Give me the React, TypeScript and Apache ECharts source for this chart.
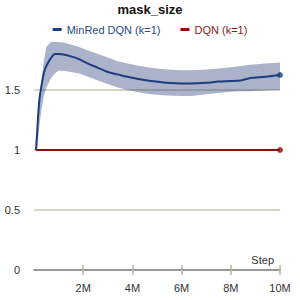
import React, { useEffect, useRef } from "react";
import * as echarts from "echarts";

const STEPS_M = [0.08, 0.12, 0.16, 0.22, 0.3, 0.4, 0.5, 0.7, 0.85, 1.0, 1.2, 1.5, 1.8, 2.2, 2.6, 3.0, 3.4, 3.8, 4.3, 4.75, 5.4, 6.0, 6.4, 7.0, 7.5, 8.0, 8.4, 8.8, 9.4, 10];
const MINRED_MEAN = [1.0, 1.12, 1.26, 1.42, 1.53, 1.64, 1.7, 1.77, 1.8, 1.8, 1.795, 1.78, 1.76, 1.72, 1.685, 1.65, 1.63, 1.61, 1.59, 1.575, 1.56, 1.555, 1.555, 1.56, 1.57, 1.575, 1.58, 1.6, 1.61, 1.625];
const MINRED_UPPER = [1.02, 1.18, 1.32, 1.45, 1.58, 1.74, 1.86, 1.9, 1.9, 1.9, 1.895, 1.88, 1.86, 1.83, 1.8, 1.77, 1.74, 1.72, 1.7, 1.685, 1.67, 1.665, 1.665, 1.67, 1.68, 1.69, 1.7, 1.71, 1.72, 1.73];
const MINRED_LOWER = [0.98, 1.0, 1.08, 1.2, 1.33, 1.45, 1.52, 1.6, 1.64, 1.66, 1.66, 1.65, 1.64, 1.61, 1.58, 1.55, 1.52, 1.5, 1.48, 1.465, 1.455, 1.45, 1.45, 1.465, 1.475, 1.485, 1.49, 1.49, 1.495, 1.5];
const DQN_STEPS_M = [0.08, 2, 4, 6, 8, 10];
const DQN_VALUES = [1, 1, 1, 1, 1, 1];
const X_TICKS = [2, 4, 6, 8, 10];
const Y_TICKS = [0, 0.5, 1, 1.5];
const GRID_VALUES = [0.5, 1, 1.5];
const SERIES_NAMES = ["MinRed DQN (k=1)", "DQN (k=1)"];

const BLUE = "#1c3e7e";
const RED = "#8b1010";
const FONT = "Liberation Sans, Arial, sans-serif";

export default function App() {
  const ref = useRef<HTMLDivElement>(null);
  useEffect(() => {
    if (!ref.current) return;
    const chart = echarts.init(ref.current, null, { renderer: "svg" });
    const last = STEPS_M.length - 1;
    const dLast = DQN_STEPS_M.length - 1;
    chart.setOption({
      animation: false,
      textStyle: { fontFamily: FONT },
      title: {
        text: "mask_size",
        left: "center",
        top: -2,
        textStyle: { fontSize: 13, fontWeight: "bold", color: "#111", fontFamily: FONT },
      },
      legend: {
        top: 19,
        left: "center",
        itemWidth: 9,
        itemHeight: 3,
        itemGap: 20,
        icon: "rect",
        textStyle: { fontSize: 11, fontFamily: FONT },
        data: [
          { name: SERIES_NAMES[0], icon: "rect", textStyle: { color: "#2c4a80" }, itemStyle: { color: BLUE } },
          { name: SERIES_NAMES[1], icon: "rect", textStyle: { color: "#8b1a1a" }, itemStyle: { color: RED } },
        ],
      },
      grid: { left: 34, right: 20, top: 42, bottom: 30 },
      xAxis: [
        {
          type: "value",
          min: 0,
          max: 10,
          interval: 2,
          axisLine: { show: true, lineStyle: { color: "#999", width: 2 } },
          axisTick: { show: true, length: 5, customValues: X_TICKS, lineStyle: { color: "#bdb5a3", width: 1.5 } },
          axisLabel: {
            customValues: X_TICKS,
            formatter: (v: number) => `${v}M`,
            color: "#333",
            fontSize: 11,
            margin: 12,
            fontFamily: FONT,
          },
          splitLine: { show: false },
        },
        {
          type: "value",
          position: "bottom",
          min: 0,
          max: 10,
          interval: 2,
          axisLine: { show: false },
          axisTick: { show: true, inside: true, length: 5, customValues: X_TICKS, lineStyle: { color: "#bdb5a3", width: 1.5 } },
          axisLabel: { show: false },
          splitLine: { show: false },
        },
      ],
      yAxis: {
        type: "value",
        min: 0,
        max: 1.9,
        interval: 0.5,
        axisLine: { show: false },
        axisTick: { show: false },
        splitLine: { show: false },
        axisLabel: { customValues: Y_TICKS, color: "#333", fontSize: 11, margin: 14, fontFamily: FONT },
      },
      graphic: [
        {
          type: "text",
          right: 26,
          top: 254,
          style: { text: "Step", fill: "#333", fontSize: 11, fontFamily: FONT },
        },
      ],
      series: [
        {
          type: "line",
          name: "grid",
          data: [],
          z: 1,
          silent: true,
          markLine: {
            z: 1,
            silent: true,
            symbol: "none",
            label: { show: false },
            lineStyle: { color: "#d6d5c6", width: 2, type: "solid" },
            data: GRID_VALUES.map((v) => ({ yAxis: v })),
          },
        },
        {
          type: "custom",
          name: "band",
          z: 2,
          silent: true,
          data: STEPS_M.map((x, i) => [x, MINRED_LOWER[i], MINRED_UPPER[i]]),
          encode: { x: 0, y: [1, 2] },
          renderItem: (params: any, api: any) => {
            if (params.dataIndex !== 0) return null;
            const pts: number[][] = [];
            for (let i = 0; i < STEPS_M.length; i++) pts.push(api.coord([STEPS_M[i], MINRED_UPPER[i]]));
            for (let i = STEPS_M.length - 1; i >= 0; i--) pts.push(api.coord([STEPS_M[i], MINRED_LOWER[i]]));
            return { type: "polygon", shape: { points: pts }, style: { fill: "rgba(35,55,115,0.38)" } };
          },
        },
        {
          type: "line",
          name: SERIES_NAMES[0],
          data: STEPS_M.map((x, i) => [x, MINRED_MEAN[i]]),
          symbol: "none",
          smooth: 0.3,
          z: 4,
          lineStyle: { color: BLUE, width: 2 },
          itemStyle: { color: BLUE },
        },
        {
          type: "line",
          name: SERIES_NAMES[1],
          data: DQN_STEPS_M.map((x, i) => [x, DQN_VALUES[i]]),
          symbol: "none",
          z: 3,
          lineStyle: { color: RED, width: 2 },
          itemStyle: { color: RED },
        },
        {
          type: "scatter",
          name: "ends",
          z: 5,
          symbolSize: 6,
          data: [
            { value: [STEPS_M[last], MINRED_MEAN[last]], itemStyle: { color: BLUE } },
            { value: [DQN_STEPS_M[dLast], DQN_VALUES[dLast]], itemStyle: { color: RED } },
          ],
        },
      ],
    });
    return () => chart.dispose();
  }, []);
  return <div ref={ref} style={{ width: 300, height: 300, position: "absolute", left: 0, top: 0 }} />;
}
